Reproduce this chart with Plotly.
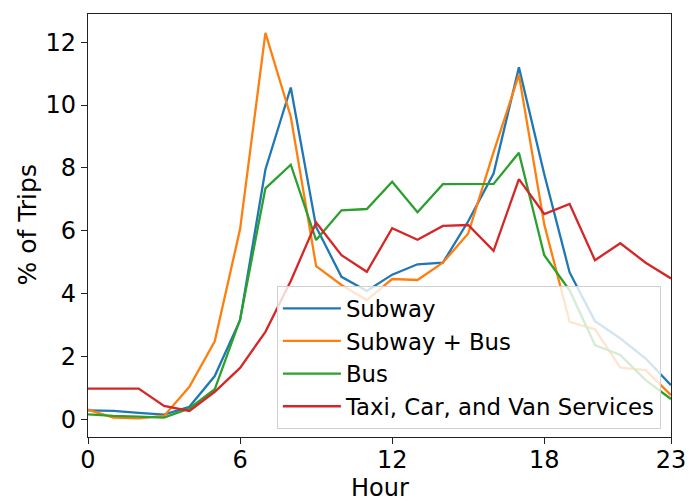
import plotly.graph_objects as go

hours = list(range(24))

subway = [0.28, 0.26, 0.20, 0.14, 0.39, 1.37, 3.15, 7.95, 10.56, 6.12, 4.53, 4.08,
          4.60, 4.93, 4.98, 6.30, 7.82, 11.20, 7.80, 4.67, 3.12, 2.57, 1.93, 1.08]
subway_bus = [0.30, 0.05, 0.02, 0.10, 1.03, 2.48, 6.05, 12.30, 9.63, 4.87, 4.27, 3.79,
              4.46, 4.43, 4.98, 5.91, 8.50, 10.96, 6.20, 3.10, 2.86, 1.64, 1.56, 0.76]
bus = [0.15, 0.10, 0.08, 0.05, 0.34, 0.95, 3.17, 7.35, 8.10, 5.70, 6.65, 6.69,
       7.56, 6.59, 7.48, 7.49, 7.49, 8.48, 5.22, 4.10, 2.36, 2.04, 1.24, 0.64]
taxi = [0.97, 0.97, 0.97, 0.42, 0.26, 0.87, 1.63, 2.78, 4.40, 6.26, 5.22, 4.69,
        6.08, 5.71, 6.15, 6.18, 5.36, 7.64, 6.53, 6.85, 5.06, 5.60, 4.98, 4.48]

series = [
    ("Subway", subway, "#1f77b4"),
    ("Subway + Bus", subway_bus, "#ff7f0e"),
    ("Bus", bus, "#2ca02c"),
    ("Taxi, Car, and Van Services", taxi, "#d62728"),
]

x_ticks = [0, 6, 12, 18, 23]
y_ticks = [0, 2, 4, 6, 8, 10, 12]

FONT = "DejaVu Sans"

fig = go.Figure()
for name, vals, color in series:
    fig.add_trace(go.Scatter(x=hours, y=vals, mode="lines", name=name,
                             line=dict(color=color, width=2.3)))

axis_common = dict(
    showgrid=False, zeroline=False, showline=True, linecolor="#222222",
    linewidth=1.3, mirror=True, ticks="outside", ticklen=6, tickwidth=1.3,
    tickcolor="#222222", tickfont=dict(size=24, color="black"),
    automargin=False,
)

fig.update_layout(
    width=689, height=501,
    margin=dict(l=88, r=18, t=14, b=64),
    paper_bgcolor="white", plot_bgcolor="white",
    font=dict(family=FONT, color="black"),
    xaxis=dict(range=[0, 23], tickvals=x_ticks, ticklabelstandoff=-5,
               **axis_common),
    yaxis=dict(range=[-0.57, 12.9], tickvals=y_ticks, **axis_common),
    legend=dict(x=0.324, y=0.357, xanchor="left", yanchor="top",
                bgcolor="rgba(255,255,255,0.8)", bordercolor="#d0d0d0",
                borderwidth=1, font=dict(size=22.8), tracegroupgap=0,
                itemwidth=58),
    annotations=[
        dict(text="Hour", xref="paper", yref="paper", x=0.5, y=-0.121,
             xanchor="center", yanchor="middle", showarrow=False,
             font=dict(size=24)),
        dict(text="% of Trips", xref="paper", yref="paper", x=-0.1046, y=0.5,
             xanchor="center", yanchor="middle", showarrow=False,
             textangle=-90, font=dict(size=25)),
    ],
    showlegend=True,
)

fig.write_html("out.html")
